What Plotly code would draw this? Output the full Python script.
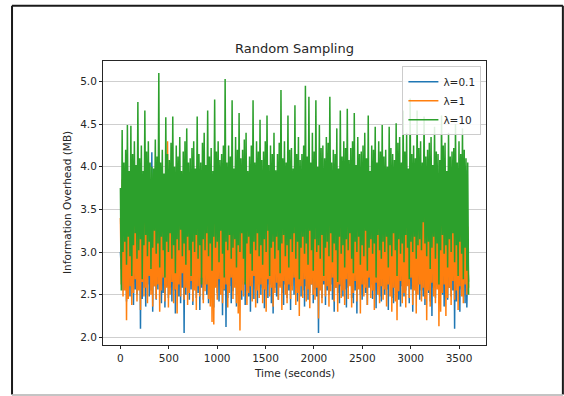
import plotly.graph_objects as go

# ---------------- data ----------------
time_end = 3599  # seconds
series_names = ["λ=0.1", "λ=1", "λ=10"]
series_colors = ["#1f77b4", "#ff7f0e", "#2ca02c"]

# alternating local maxima / minima of each series (MB), ~every 18 s
blue_hi = [3.00, 3.72, 3.88, 3.60, 3.95, 3.76, 3.66, 3.90, 3.82, 3.58,
           3.86, 3.70, 3.94, 3.62, 3.80, 3.56, 3.92, 3.74, 4.17, 3.68,
           3.84, 3.60, 3.96, 3.72, 3.64, 3.88, 3.78, 3.58, 3.90, 3.70,
           3.62, 3.86, 3.74, 3.94, 3.66, 3.80, 3.56, 3.92, 3.76, 3.84,
           3.70, 3.94, 3.60, 3.82, 3.88, 3.64, 3.78, 3.96, 3.68, 3.86,
           3.58, 3.90, 3.76, 3.62, 3.84, 3.72, 3.94, 3.66, 3.80, 3.88,
           3.74, 3.60, 3.92, 3.78, 3.68, 3.86, 3.56, 3.90, 3.82, 3.64,
           3.96, 3.70, 3.84, 3.62, 3.88, 3.76, 3.66, 3.92, 3.58, 3.80,
           3.86, 3.72, 3.60, 3.94, 3.78, 3.64, 3.90, 3.82, 3.68, 3.56,
           3.92, 3.76, 3.84, 3.62, 3.96, 3.70, 3.80, 3.66, 3.88, 3.74,
           3.60, 3.86, 3.72, 3.94, 3.64, 3.82, 3.78, 3.58, 3.90, 3.68,
           3.84, 3.62, 3.96, 3.76, 3.70, 3.88, 3.66, 3.92, 3.80, 3.56,
           3.74, 3.90, 3.64, 3.82, 3.86, 3.60, 3.94, 3.72, 3.68, 3.88,
           3.78, 3.58, 3.92, 3.66, 3.84, 3.76, 3.62, 3.96, 3.70, 3.80,
           3.88, 3.68, 3.74, 3.90, 3.60, 3.86, 3.82, 3.64, 3.94, 3.72,
           3.56, 3.92, 3.80, 3.66, 3.88, 3.70, 3.84, 3.62, 3.96, 3.76,
           3.72, 3.84, 3.60, 3.90, 3.78, 3.64, 3.94, 3.68, 3.82, 3.86,
           3.66, 3.96, 3.74, 3.58, 3.88, 3.80, 3.70, 3.92, 3.62, 3.84,
           3.90, 3.64, 3.82, 3.76, 3.68, 3.94, 3.60, 3.86, 3.72, 3.78,
           3.84, 3.70, 3.92, 3.62, 3.80, 3.88, 3.66, 3.74, 3.96, 2.90]
blue_lo = [2.80, 2.55, 2.62, 2.42, 2.58, 2.48, 2.65, 2.38, 2.56, 2.50,
           2.60, 2.10, 2.45, 2.58, 2.36, 2.62, 2.48, 2.55, 2.30, 2.60,
           2.44, 2.56, 2.62, 2.40, 2.52, 2.35, 2.60, 2.46, 2.58, 2.42,
           2.55, 2.28, 2.62, 2.48, 2.40, 2.58, 2.05, 2.50, 2.62, 2.44,
           2.56, 2.38, 2.60, 2.46, 2.52, 2.32, 2.58, 2.44, 2.62, 2.50,
           2.40, 2.56, 2.48, 2.35, 2.60, 2.52, 2.42, 2.58, 2.26, 2.55,
           2.12, 2.46, 2.60, 2.40, 2.54, 2.62, 2.36, 2.50, 2.58, 2.44,
           2.62, 2.38, 2.55, 2.48, 2.30, 2.60, 2.45, 2.56, 2.40, 2.62,
           2.50, 2.58, 2.34, 2.55, 2.46, 2.62, 2.40, 2.28, 2.58, 2.48,
           2.44, 2.60, 2.52, 2.38, 2.62, 2.46, 2.55, 2.32, 2.60, 2.50,
           2.58, 2.42, 2.62, 2.48, 2.55, 2.36, 2.60, 2.44, 2.52, 2.62,
           2.40, 2.56, 2.48, 2.05, 2.58, 2.46, 2.62, 2.38, 2.55, 2.50,
           2.62, 2.44, 2.30, 2.58, 2.52, 2.40, 2.60, 2.48, 2.56, 2.35,
           2.58, 2.62, 2.46, 2.40, 2.55, 2.28, 2.60, 2.50, 2.44, 2.62,
           2.52, 2.38, 2.58, 2.62, 2.45, 2.55, 2.34, 2.60, 2.48, 2.42,
           2.60, 2.50, 2.56, 2.32, 2.62, 2.46, 2.40, 2.58, 2.52, 2.44,
           2.36, 2.60, 2.48, 2.55, 2.62, 2.40, 2.56, 2.30, 2.58, 2.50,
           2.62, 2.44, 2.55, 2.48, 2.38, 2.60, 2.52, 2.42, 2.25, 2.58,
           2.46, 2.62, 2.40, 2.55, 2.50, 2.36, 2.60, 2.44, 2.58, 2.48,
           2.55, 2.10, 2.42, 2.62, 2.30, 2.56, 2.48, 2.40, 2.35, 2.65]

orange_hi = [3.40, 3.85, 3.62, 3.95, 3.70, 3.88, 3.55, 3.92, 3.75, 3.60,
             3.90, 3.68, 3.82, 3.58, 3.95, 3.72, 3.86, 3.64, 3.78, 3.92,
             3.60, 3.84, 3.70, 3.96, 3.66, 3.80, 3.58, 4.30, 3.74, 3.88,
             3.62, 3.92, 3.76, 3.56, 3.86, 3.70, 3.94, 3.64, 3.82, 3.68,
             3.88, 3.60, 3.78, 3.94, 3.66, 3.84, 3.72, 3.58, 3.90, 3.76,
             3.64, 3.96, 3.70, 3.82, 3.58, 3.88, 3.74, 3.92, 3.62, 3.80,
             3.86, 3.68, 3.94, 3.60, 3.78, 3.90, 3.66, 3.84, 3.72, 3.56,
             3.92, 3.74, 3.62, 3.88, 3.80, 3.64, 3.96, 3.70, 3.84, 3.58,
             3.76, 3.90, 3.66, 3.82, 3.94, 3.60, 3.72, 3.86, 3.62, 3.88,
             3.70, 3.58, 3.92, 3.78, 3.64, 3.84, 3.96, 3.68, 3.80, 3.74,
             3.90, 3.62, 3.86, 3.72, 3.56, 3.94, 3.76, 3.82, 3.66, 3.88,
             3.60, 3.84, 3.70, 3.92, 3.78, 3.64, 3.88, 3.58, 3.96, 3.74,
             3.82, 3.66, 3.94, 3.62, 3.80, 3.90, 3.70, 3.86, 3.60, 3.76,
             3.92, 3.72, 3.58, 3.84, 3.68, 3.96, 3.78, 3.64, 3.88, 3.70,
             3.62, 3.86, 3.76, 3.94, 3.60, 3.82, 3.92, 3.66, 3.74, 3.88,
             3.80, 3.58, 3.90, 3.70, 3.84, 3.64, 3.96, 3.76, 3.62, 3.86,
             3.72, 3.92, 3.66, 3.80, 3.88, 3.60, 3.78, 3.94, 3.70, 3.84,
             3.58, 3.76, 3.62, 3.90, 3.68, 3.86, 3.74, 3.82, 3.64, 3.96,
             3.84, 3.70, 3.92, 3.60, 3.80, 3.76, 3.88, 3.66, 3.94, 3.72,
             3.62, 3.86, 3.78, 3.90, 3.64, 3.82, 3.70, 3.96, 3.76, 3.30]
orange_lo = [2.62, 2.48, 2.55, 2.20, 2.45, 2.60, 2.38, 2.52, 2.68, 2.42,
             2.55, 2.32, 2.65, 2.48, 2.58, 2.40, 2.72, 2.50, 2.36, 2.60,
             2.45, 2.62, 2.30, 2.55, 2.70, 2.42, 2.58, 2.35, 2.50, 2.65,
             2.40, 2.56, 2.28, 2.62, 2.48, 2.75, 2.44, 2.58, 2.38, 2.52,
             2.66, 2.42, 2.55, 2.32, 2.60, 2.48, 2.70, 2.40, 2.54, 2.62,
             2.45, 2.36, 2.18, 2.15, 2.58, 2.44, 2.68, 2.50, 2.40, 2.56,
             2.62, 2.35, 2.52, 2.70, 2.45, 2.58, 2.40, 2.28, 2.08, 2.55,
             2.48, 2.65, 2.38, 2.52, 2.60, 2.42, 2.72, 2.35, 2.55, 2.46,
             2.62, 2.40, 2.56, 2.30, 2.68, 2.48, 2.58, 2.36, 2.52, 2.64,
             2.44, 2.58, 2.32, 2.66, 2.50, 2.40, 2.62, 2.45, 2.55, 2.70,
             2.38, 2.52, 2.25, 2.60, 2.46, 2.68, 2.42, 2.56, 2.34, 2.62,
             2.50, 2.44, 2.58, 2.22, 2.55, 2.40, 2.66, 2.48, 2.60, 2.36,
             2.54, 2.70, 2.42, 2.58, 2.30, 2.62, 2.46, 2.55, 2.38, 2.68,
             2.45, 2.60, 2.35, 2.52, 2.66, 2.42, 2.56, 2.28, 2.62, 2.48,
             2.58, 2.38, 2.70, 2.46, 2.55, 2.32, 2.64, 2.50, 2.40, 2.60,
             2.44, 2.56, 2.36, 2.62, 2.48, 2.30, 2.58, 2.42, 2.20, 2.54,
             2.66, 2.40, 2.52, 2.35, 2.60, 2.46, 2.70, 2.38, 2.55, 2.28,
             2.50, 2.62, 2.42, 2.58, 2.45, 2.20, 2.55, 2.36, 2.64, 2.48,
             2.40, 2.56, 2.13, 2.30, 2.52, 2.62, 2.25, 2.46, 2.58, 2.38,
             2.66, 2.44, 2.55, 2.32, 2.60, 2.48, 2.40, 2.62, 2.50, 2.58]

green_hi = [3.75, 4.43, 4.05, 4.20, 4.49, 3.95, 4.48, 4.15, 4.30, 4.02,
            4.76, 4.10, 4.25, 3.95, 4.66, 4.18, 4.30, 4.05, 4.00, 3.98,
            4.32, 4.12, 5.10, 4.05, 4.20, 3.92, 4.58, 4.15, 4.08, 4.28,
            4.59, 4.00, 4.25, 4.12, 4.35, 3.95, 4.18, 4.30, 4.45, 4.05,
            4.10, 4.22, 4.30, 3.98, 4.59, 4.15, 4.05, 4.28, 4.40, 4.02,
            4.66, 4.12, 4.22, 3.95, 4.79, 4.18, 4.30, 4.08, 4.15, 4.25,
            5.03, 4.05, 4.25, 4.12, 4.78, 3.98, 4.35, 4.20, 4.63, 4.10,
            4.20, 4.32, 4.40, 3.95, 4.12, 4.25, 4.78, 4.05, 4.30, 4.18,
            4.55, 4.08, 4.18, 4.30, 4.60, 4.02, 4.25, 4.15, 4.40, 3.96,
            4.15, 4.28, 4.90, 4.10, 4.30, 4.05, 4.60, 4.20, 4.22, 3.98,
            4.72, 4.15, 4.35, 4.08, 4.15, 4.25, 4.95, 4.12, 4.82, 4.05,
            4.40, 4.18, 4.78, 4.00, 4.49, 4.22, 4.25, 4.10, 4.35, 4.28,
            4.82, 4.05, 4.20, 4.15, 4.45, 3.98, 4.66, 4.12, 4.30, 4.22,
            4.68, 4.08, 4.22, 4.30, 4.63, 4.02, 4.35, 4.15, 4.18, 4.25,
            4.40, 4.10, 4.60, 3.95, 4.25, 4.20, 4.47, 4.05, 4.30, 4.18,
            4.49, 4.12, 4.20, 4.00, 4.47, 4.22, 4.15, 4.08, 4.51, 4.28,
            4.35, 4.05, 4.66, 4.18, 4.40, 3.98, 4.80, 4.15, 4.25, 4.10,
            4.66, 4.22, 4.30, 4.05, 4.59, 4.12, 4.20, 4.28, 4.35, 4.02,
            4.47, 4.18, 4.15, 4.08, 4.60, 4.25, 4.28, 3.95, 4.40, 4.12,
            4.18, 4.22, 4.50, 4.05, 4.30, 4.15, 4.45, 4.20, 4.10, 4.05]
green_lo = [2.55, 3.00, 3.12, 2.85, 3.18, 2.95, 2.72, 3.08, 3.22, 2.92,
            3.02, 3.15, 2.68, 3.08, 3.20, 2.95, 3.12, 2.80, 3.05, 3.25,
            2.98, 3.10, 2.82, 3.18, 3.02, 2.70, 3.12, 3.00, 3.22, 2.92,
            3.08, 2.75, 3.15, 3.02, 3.26, 2.95, 3.10, 2.85, 3.18, 3.02,
            2.72, 3.12, 3.00, 3.20, 2.92, 3.08, 2.62, 3.15, 3.02, 3.22,
            2.95, 3.10, 2.78, 3.18, 3.05, 3.12, 2.88, 3.25, 2.98, 2.70,
            3.12, 3.02, 3.20, 2.92, 3.05, 3.15, 2.82, 3.08, 3.00, 3.22,
            2.92, 2.62, 3.10, 3.18, 2.98, 2.78, 3.12, 3.02, 3.22, 2.95,
            3.08, 2.85, 3.15, 3.00, 3.25, 2.72, 3.05, 3.12, 2.92, 3.18,
            3.02, 2.75, 3.10, 3.20, 2.95, 3.08, 2.82, 3.15, 3.00, 3.22,
            2.92, 3.12, 2.68, 3.05, 3.18, 2.98, 3.10, 2.85, 3.25, 3.02,
            2.78, 3.15, 3.00, 3.08, 2.92, 3.20, 2.72, 3.05, 3.12, 2.95,
            3.22, 2.88, 3.10, 3.02, 2.65, 3.18, 2.98, 3.08, 2.82, 3.15,
            3.02, 3.22, 2.92, 2.75, 3.12, 3.00, 3.18, 2.85, 3.08, 2.95,
            3.25, 2.78, 3.05, 3.15, 2.98, 3.10, 2.70, 3.20, 3.02, 2.92,
            3.12, 3.00, 3.18, 2.82, 3.08, 2.95, 3.22, 3.02, 2.72, 3.15,
            2.98, 3.10, 2.88, 3.20, 3.05, 2.68, 3.12, 3.00, 3.18, 2.92,
            3.08, 3.15, 3.02, 3.35, 3.10, 2.95, 3.12, 2.80, 3.05, 3.18,
            2.92, 3.10, 2.62, 3.02, 3.20, 2.98, 3.08, 2.82, 3.15, 3.00,
            3.22, 2.88, 3.08, 2.72, 3.12, 2.98, 2.68, 3.05, 2.78, 2.50]

x_ticks = [0, 500, 1000, 1500, 2000, 2500, 3000, 3500]
y_ticks = [2.0, 2.5, 3.0, 3.5, 4.0, 4.5, 5.0]


def interleave(hi, lo):
    out = []
    for h, l in zip(hi, lo):
        out += [h, l]
    return out


n_pts = 2 * len(green_hi)
times = [time_end * i / (n_pts - 1) for i in range(n_pts)]

fig = go.Figure()
for name, color, hi, lo in zip(series_names, series_colors,
                               [blue_hi, orange_hi, green_hi],
                               [blue_lo, orange_lo, green_lo]):
    fig.add_trace(go.Scatter(x=times, y=interleave(hi, lo), mode="lines",
                             name=name, line=dict(color=color, width=1.5)))

# ---------------- layout ----------------
W, H = 564, 396
L, R, T, B = 102.5, 485.6, 60.7, 345.0
pw, ph = R - L, B - T


def px_to_paper_x(px):
    return (px - L) / pw


def px_to_paper_y(py):
    return (B - py) / ph


font = "DejaVu Sans"
ink = "#262626"
fig.update_layout(
    width=W, height=H,
    margin=dict(l=L, r=W - R, t=T, b=H - B, pad=0),
    paper_bgcolor="white", plot_bgcolor="white",
    font=dict(family=font, size=10.5, color=ink),
    title=dict(text="Random Sampling", x=0.5, xref="paper", xanchor="center",
               y=1 - 48 / H, yref="container", yanchor="middle",
               font=dict(family=font, size=13, color=ink)),
    showlegend=True,
    legend=dict(x=px_to_paper_x(481), y=px_to_paper_y(66),
                xanchor="right", yanchor="top",
                bgcolor="rgba(255,255,255,0.85)", bordercolor="#cccccc",
                borderwidth=1, font=dict(family=font, size=10.5, color=ink),
                itemwidth=30, tracegroupgap=0),
)
fig.update_xaxes(range=[-180, 3779], tickvals=x_ticks, ticks="outside",
                 ticklen=3, tickwidth=1, tickcolor=ink,
                 showline=True, linecolor=ink, linewidth=1, mirror=True,
                 showgrid=False, zeroline=False,
                 tickfont=dict(family=font, size=10.5, color=ink))
fig.update_yaxes(range=[1.91, 5.24], tickvals=y_ticks, tickformat=".1f",
                 ticks="outside", ticklen=3, tickwidth=1, tickcolor=ink,
                 showline=True, linecolor=ink, linewidth=1, mirror=True,
                 showgrid=True, gridcolor="#cfcfcf", gridwidth=1,
                 zeroline=False,
                 tickfont=dict(family=font, size=10.5, color=ink))

fig.add_annotation(text="Time (seconds)", xref="paper", yref="paper",
                   x=0.5, y=px_to_paper_y(373), xanchor="center",
                   yanchor="middle", showarrow=False,
                   font=dict(family=font, size=10.5, color=ink))
fig.add_annotation(text="Information Overhead (MB)", xref="paper",
                   yref="paper", x=px_to_paper_x(66.5), y=0.5,
                   xanchor="center", yanchor="middle", textangle=-90,
                   showarrow=False,
                   font=dict(family=font, size=10.5, color=ink))

# outer frame around the figure image
frame = dict(color="#1a1a1a", width=2)
fx0, fx1, fy0, fy1 = 11.5, 562.5, 5.5, 394.5
fig.add_shape(type="line", xref="paper", yref="paper",
              x0=px_to_paper_x(fx0), x1=px_to_paper_x(fx1),
              y0=px_to_paper_y(fy0), y1=px_to_paper_y(fy0), line=frame)
fig.add_shape(type="line", xref="paper", yref="paper",
              x0=px_to_paper_x(fx0), x1=px_to_paper_x(fx0),
              y0=px_to_paper_y(fy0), y1=px_to_paper_y(fy1), line=frame)
fig.add_shape(type="line", xref="paper", yref="paper",
              x0=px_to_paper_x(fx1), x1=px_to_paper_x(fx1),
              y0=px_to_paper_y(fy0), y1=px_to_paper_y(fy1), line=frame)
fig.add_shape(type="line", xref="paper", yref="paper",
              x0=px_to_paper_x(fx0), x1=px_to_paper_x(fx1),
              y0=px_to_paper_y(fy1 + 0.5), y1=px_to_paper_y(fy1 + 0.5),
              line=dict(color="#b0b0b0", width=1.5))

fig.write_html("out.html", config={"displayModeBar": False},
               post_script="document.body.style.margin='0';"
                           "document.body.style.overflow='hidden';")
